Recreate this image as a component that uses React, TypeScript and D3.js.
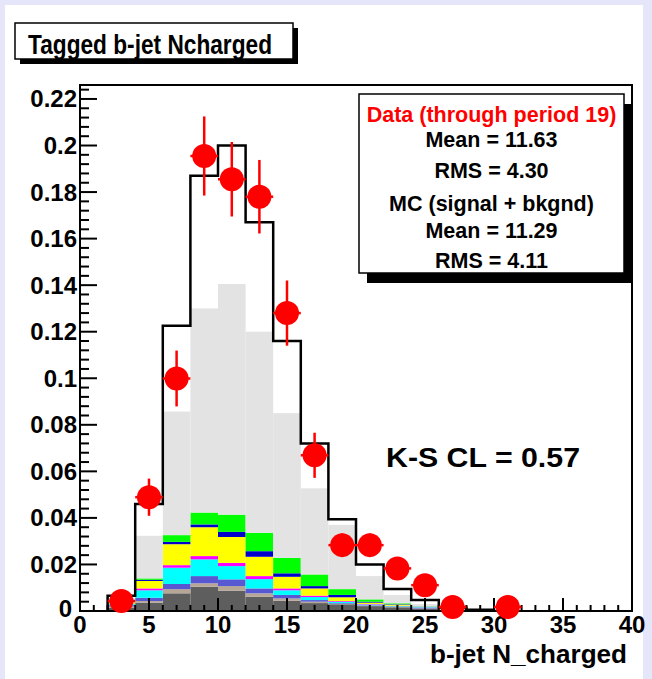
import React from "react";
import * as d3 from "d3";

// ---- data ----
const binLow = [2, 4, 6, 8, 10, 12, 14, 16, 18, 20, 22, 24, 26, 28];
const binWidth = 2;

// stacked MC components (bottom to top)
const compDark = [0.0015, 0.0036, 0.0076, 0.0104, 0.0087, 0.0061, 0.0044, 0.0034, 0.0029, 0.0021, 0.0016, 0.001, 0.0004, 0.0001];
const compTan = [0.0004, 0.0007, 0.0018, 0.0015, 0.002, 0.0015, 0.001, 0.0006, 0.0002, 0.0002, 0.0002, 0.0001, 0.0001, 0];
const compSlate = [0.0006, 0.0014, 0.0022, 0.0031, 0.0029, 0.0021, 0.0015, 0.0007, 0.0003, 0.0002, 0.0002, 0.0002, 0.0001, 0];
const compCyan = [0.0005, 0.0032, 0.007, 0.0072, 0.0057, 0.004, 0.002, 0.0013, 0.0006, 0.0003, 0.0002, 0.0003, 0.0001, 0];
const compMagenta = [0.0002, 0.0008, 0.0011, 0.0014, 0.0014, 0.0013, 0.0008, 0.0006, 0.0003, 0.0002, 0.0001, 0.0001, 0, 0];
const compYellow = [0.0006, 0.0032, 0.009, 0.0124, 0.0111, 0.0083, 0.005, 0.0031, 0.0016, 0.0006, 0.0004, 0.0001, 0.0001, 0];
const compBlue = [0.0002, 0.0005, 0.001, 0.0012, 0.0022, 0.0024, 0.0015, 0.001, 0.001, 0.0004, 0.0002, 0.0001, 0, 0];
const compGreen = [0.0005, 0.0006, 0.0029, 0.0051, 0.0074, 0.0079, 0.0066, 0.005, 0.0025, 0.001, 0.0004, 0.0001, 0.0001, 0];
const compGray = [0.001, 0.0183, 0.0531, 0.0877, 0.0991, 0.0864, 0.0622, 0.037, 0.0276, 0.01, 0.0036, 0.001, 0.0003, 0.0004];

const compKeys = ["dark", "tan", "slate", "cyan", "magenta", "yellow", "blue", "green", "gray"];
const compColors = ["#5e5e5e", "#b6a696", "#5858d2", "#00ffff", "#ff00ff", "#ffff00", "#0000cc", "#00ff00", "#e3e3e3"];

// MC total (signal + background) outline
const mcOutline = [0.0065, 0.046, 0.1226, 0.187, 0.2, 0.167, 0.116, 0.072, 0.0394, 0.02, 0.0094, 0.0047, 0.0015, 0.0005];

// Data points
const dataX = [3, 5, 7, 9, 11, 13, 15, 17, 19, 21, 23, 25, 27, 31];
const dataY = [0.0043, 0.0489, 0.0999, 0.1955, 0.1855, 0.178, 0.128, 0.0669, 0.0283, 0.0283, 0.0183, 0.0111, 0.0017, 0.0017];
const dataErr = [0.002, 0.008, 0.012, 0.017, 0.016, 0.0158, 0.014, 0.0097, 0.005, 0.005, 0.004, 0.003, 0.0015, 0.0015];

const xTicks = [0, 5, 10, 15, 20, 25, 30, 35, 40];
const xTickLabels = ["0", "5", "10", "15", "20", "25", "30", "35", "40"];
const yTicks = [0, 0.02, 0.04, 0.06, 0.08, 0.1, 0.12, 0.14, 0.16, 0.18, 0.2, 0.22];
const yTickLabels = ["0", "0.02", "0.04", "0.06", "0.08", "0.1", "0.12", "0.14", "0.16", "0.18", "0.2", "0.22"];

const titleText = "Tagged b-jet Ncharged";
const xAxisTitle = "b-jet N_charged";
const statsLines = [
  { text: "Data (through period 19)", red: true },
  { text: "Mean = 11.63", red: false },
  { text: "RMS = 4.30", red: false },
  { text: "MC (signal + bkgnd)", red: false },
  { text: "Mean = 11.29", red: false },
  { text: "RMS = 4.11", red: false },
];
const ksText = "K-S CL = 0.57";

const FONT = "'Liberation Sans', Arial, Helvetica, sans-serif";

export default function App() {
  const W = 652;
  const H = 679;
  const left = 80, right = 632, top = 85, bottom = 611;
  const x = d3.scaleLinear().domain([0, 40]).range([left, right]);
  const y = d3.scaleLinear().domain([0, 0.226]).range([bottom, top]);

  const rows = binLow.map((lo, i) => ({
    lo,
    dark: compDark[i],
    tan: compTan[i],
    slate: compSlate[i],
    cyan: compCyan[i],
    magenta: compMagenta[i],
    yellow: compYellow[i],
    blue: compBlue[i],
    green: compGreen[i],
    gray: compGray[i],
  }));
  const stacked = d3.stack<any>().keys(compKeys)(rows);

  // outline path
  let outline = `M${x(binLow[0])},${y(0)}`;
  binLow.forEach((lo, i) => {
    outline += `V${y(mcOutline[i])}H${x(lo + binWidth)}`;
  });
  outline += `V${y(0)}`;

  const xMinor = d3.range(0, 41, 1);
  const yMinor = d3.range(0, 0.2261, 0.004);

  const statsX = 359, statsY = 94, statsW = 265, statsH = 179;
  const statsBaselines = [122, 147, 178, 211, 238, 268];

  return (
    <svg width={W} height={H} style={{ position: "absolute", left: 0, top: 0, display: "block" }}
      fontFamily={FONT}>
      <rect x={0} y={0} width={W} height={H} fill="#e6e6fa" />
      <rect x={5} y={5} width={638} height={H - 5} fill="#ffffff" />

      {/* stacked MC components */}
      {stacked.map((layer, li) => (
        <g key={layer.key} fill={compColors[li]}>
          {layer.map((d, bi) => {
            const h = y(d[0]) - y(d[1]);
            if (h <= 0) return null;
            return (
              <rect key={bi} x={x(d.data.lo)} y={y(d[1])}
                width={x(d.data.lo + binWidth) - x(d.data.lo)} height={h} />
            );
          })}
        </g>
      ))}

      {/* MC outline */}
      <path d={outline} fill="none" stroke="#000" strokeWidth={2.5} />

      {/* axes ticks */}
      <g stroke="#000" strokeWidth={2}>
        {xMinor.map((t) => {
          const major = t % 5 === 0;
          return <line key={"xm" + t} x1={x(t)} x2={x(t)} y1={bottom} y2={bottom - (major ? 13 : 6)} />;
        })}
        {yMinor.map((t, i) => {
          const major = i % 5 === 0;
          return <line key={"ym" + i} x1={left} x2={left + (major ? 17 : 9)} y1={y(t)} y2={y(t)} />;
        })}
      </g>

      {/* frame */}
      <rect x={left} y={top} width={right - left} height={bottom - top} fill="none" stroke="#000" strokeWidth={2} />

      {/* tick labels */}
      <g fontSize={24} fontWeight="bold" fill="#000">
        {yTicks.map((t, i) => (
          <text key={"yl" + i} x={i === 0 ? 72 : 77} y={y(t) + (i === 0 ? 6 : 8.5)} textAnchor="end">{yTickLabels[i]}</text>
        ))}
        {xTicks.map((t, i) => (
          <text key={"xl" + i} x={x(t)} y={633} textAnchor="middle">{xTickLabels[i]}</text>
        ))}
      </g>

      {/* x axis title */}
      <text x={627} y={663} textAnchor="end" fontSize={25} fontWeight="bold"
        textLength={197} lengthAdjust="spacingAndGlyphs">{xAxisTitle}</text>

      {/* data points */}
      <g stroke="#ff0000" strokeWidth={2.5}>
        {dataX.map((dx, i) => (
          <g key={"d" + i}>
            <line x1={x(dx)} x2={x(dx)} y1={y(dataY[i] - dataErr[i])} y2={y(dataY[i] + dataErr[i])} />
            <line x1={x(dx - 1)} x2={x(dx + 1)} y1={y(dataY[i])} y2={y(dataY[i])} />
            <circle cx={x(dx)} cy={y(dataY[i])} r={12} fill="#ff0000" stroke="none" />
          </g>
        ))}
      </g>

      {/* K-S text */}
      <text x={386} y={467} fontSize={28} fontWeight="bold" textLength={194}
        lengthAdjust="spacingAndGlyphs">{ksText}</text>

      {/* stats box */}
      <rect x={statsX + 8} y={statsY + 10} width={statsW} height={statsH} fill="#000" />
      <rect x={statsX} y={statsY} width={statsW} height={statsH} fill="#fff" stroke="#000" strokeWidth={1.5} />
      {statsLines.map((l, i) => (
        <text key={"s" + i} x={statsX + statsW / 2} y={statsBaselines[i]} textAnchor="middle"
          fontSize={21.5} fontWeight="bold" fill={l.red ? "#ff0000" : "#000"}>{l.text}</text>
      ))}

      {/* title box */}
      <rect x={20} y={28} width={278} height={36} fill="#000" />
      <rect x={15} y={23} width={278} height={36} fill="#fff" stroke="#000" strokeWidth={1.5} />
      <text x={28} y={54} fontSize={28} fontWeight="bold" textLength={244}
        lengthAdjust="spacingAndGlyphs">{titleText}</text>
    </svg>
  );
}
